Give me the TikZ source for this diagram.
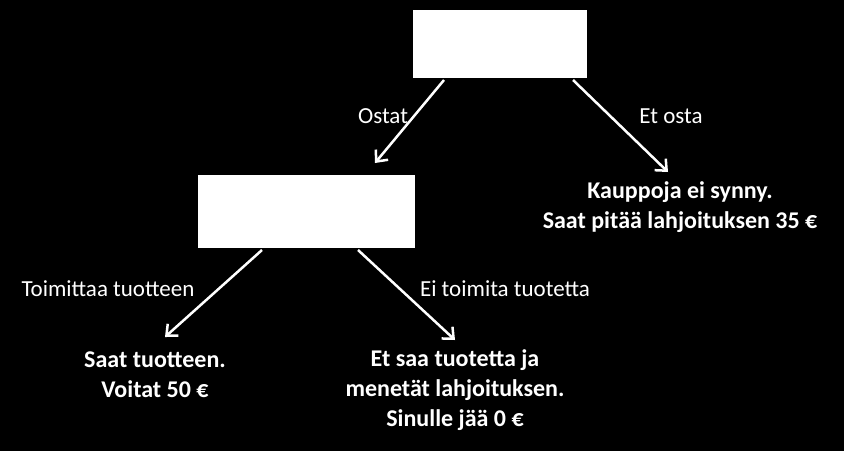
\documentclass[tikz,border=0pt]{standalone}
\usepackage{fontspec}
\setmainfont{Carlito}
\usetikzlibrary{arrows.meta}
\begin{document}
\begin{tikzpicture}[x=1pt,y=-1pt,
  box/.style={fill=white,draw=none},
  arr/.style={draw=white,line width=2.5pt,-{Straight Barb[length=9pt,width=16pt,line width=2.5pt]}},
  lbl/.style={text=white,font=\fontsize{23}{26}\selectfont},
  res/.style={text=white,font=\bfseries\fontsize{24}{30}\selectfont,align=center}]
\fill[black] (0,0) rectangle (844,451);
\fill[box] (413,10) rectangle (587,78);
\fill[box] (198,175) rectangle (415,248);
\coordinate (a1) at (444,80); \coordinate (a2) at (375,163);
\coordinate (b1) at (573,80); \coordinate (b2) at (668,172);
\coordinate (c1) at (262,250); \coordinate (c2) at (165,337);
\coordinate (d1) at (358,250); \coordinate (d2) at (455,340);
\draw[arr] (a1) -- (a2);
\draw[arr] (b1) -- (b2);
\draw[arr] (c1) -- (c2);
\draw[arr] (d1) -- (d2);
\node[lbl] (l1) at (383,116) {Ostat};
\node[lbl] (l2) at (671,116) {Et osta};
\node[lbl] (l3) at (108,289) {Toimittaa tuotteen};
\node[lbl] (l4) at (505,289) {Ei toimita tuotetta};
\node[res] (r1) at (680,207) {Kauppoja ei synny.\\Saat pitää lahjoituksen 35 €};
\node[res] (r2) at (155,375) {Saat tuotteen.\\Voitat 50 €};
\node[res] (r3) at (455,390) {Et saa tuotetta ja\\menetät lahjoituksen.\\Sinulle jää 0 €};
\end{tikzpicture}
\end{document}
